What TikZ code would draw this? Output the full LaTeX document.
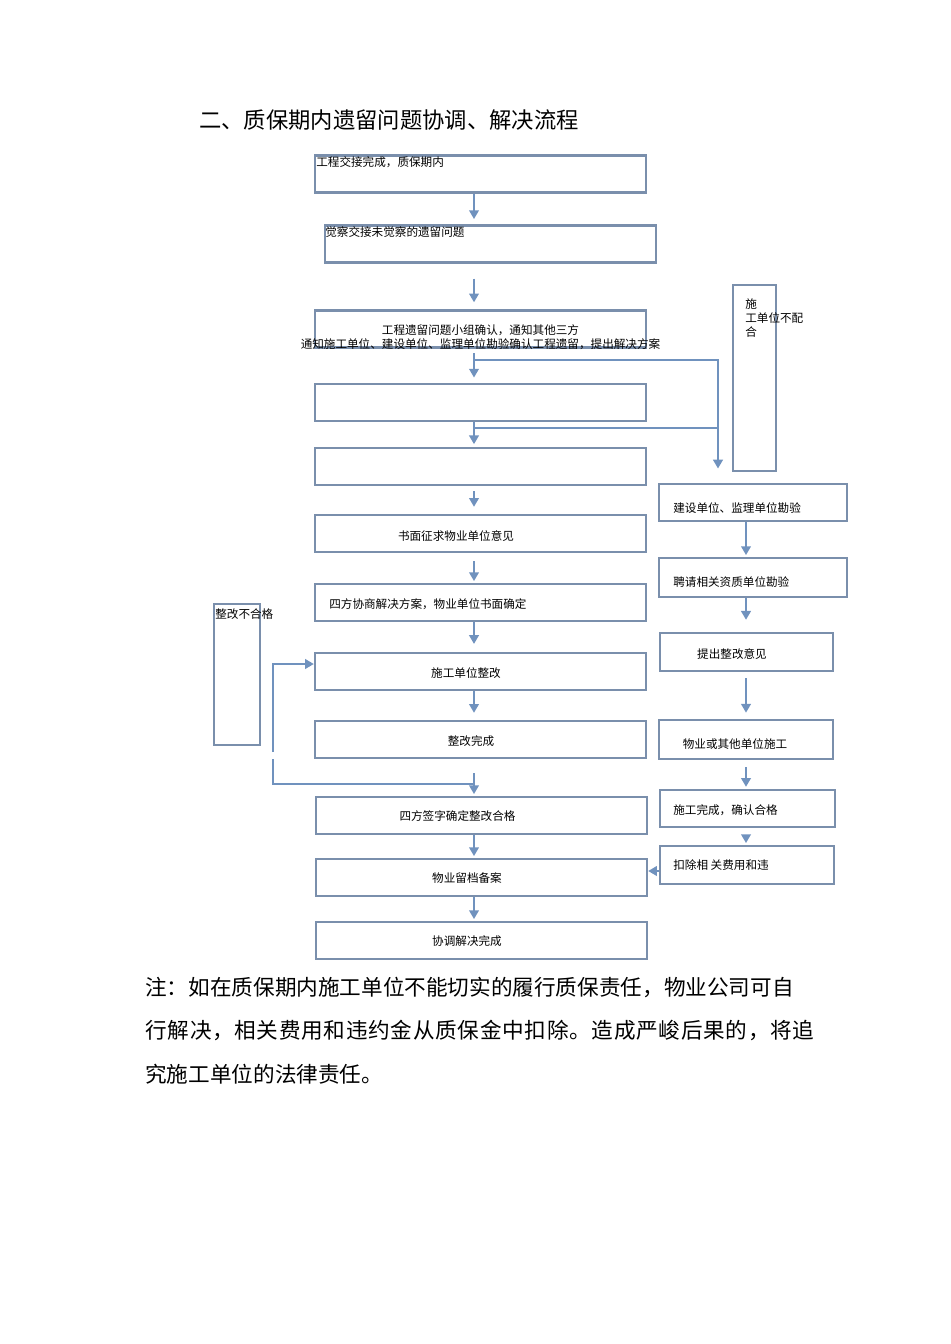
\documentclass[tikz,border=0pt]{standalone}
\usepackage{fontspec}
\setmainfont{Noto Sans CJK SC}
\usetikzlibrary{arrows.meta,positioning}
\definecolor{boxline}{RGB}{122,143,172}
\definecolor{flowline}{RGB}{112,146,190}

\begin{document}
\begin{tikzpicture}[
    x=0.02cm, y=-0.02cm,
    every node/.style={font=\fontsize{6.6}{8.2}\selectfont, inner sep=0pt},
    box/.style={rectangle, draw=boxline, line width=1.35pt, minimum width=6.62cm, minimum height=0.74cm},
    sidebox/.style={rectangle, draw=boxline, line width=1.35pt, minimum height=0.75cm},
    txt/.style={anchor=center},
    flow/.style={draw=flowline, line width=1.1pt, -{Triangle[width=5.5pt,length=5pt]}},
    link/.style={draw=flowline, line width=1.1pt}
  ]
    \useasboundingbox (0,0) rectangle (950,1344);

    % Title
    \node[anchor=west, font=\fontsize{12.7}{15}\selectfont] (title) at (199,120) {二、质保期内遗留问题协调、解决流程};

    % Main column
    \node[box] (b1) at (480.5,174) {};
    \node[box] (b2) at (490.5,244) {};
    \node[box] (b3) at (480.5,329) {};
    \node[box] (b4) at (480.5,402.5) {};
    \node[box] (b5) at (480.5,466.5) {};
    \node[box] (b6) at (480.5,533.5) {};
    \node[box] (b7) at (480.5,602.5) {};
    \node[box] (b8) at (480.5,671.5) {};
    \node[box] (b9) at (480.5,739.5) {};
    \node[box] (b10) at (481.5,815.5) {};
    \node[box] (b11) at (481.5,877.5) {};
    \node[box] (b12) at (481.5,940.5) {};

    % Main column texts
    \node[anchor=west] (t1) at (316,162) {工程交接完成，质保期内};
    \node[anchor=west] (t2) at (325,232) {觉察交接未觉察的遗留问题};
    \node[align=center] (t3) at (480.5,337.5) {工程遗留问题小组确认，通知其他三方\\通知施工单位、建设单位、监理单位勘验确认工程遗留，提出解决方案};
    \node[txt] (t6) at (456,536) {书面征求物业单位意见};
    \node[anchor=west] (t7) at (329,604) {四方协商解决方案，物业单位书面确定};
    \node[txt] (t8) at (466,673) {施工单位整改};
    \node[txt] (t9) at (471,741) {整改完成};
    \node[txt] (t10) at (457.5,816) {四方签字确定整改合格};
    \node[txt] (t11) at (467,878) {物业留档备案};
    \node[txt] (t12) at (467,941) {协调解决完成};

    % Right column
    \node[rectangle, draw=boxline, line width=1.35pt, minimum width=0.86cm, minimum height=3.72cm] (r0) at (754.5,378) {};
    \node[sidebox, minimum width=3.76cm] (r1) at (753,502.5) {};
    \node[sidebox, minimum width=3.76cm, minimum height=0.78cm] (r2) at (753,577.5) {};
    \node[sidebox, minimum width=3.46cm] (r3) at (746.5,652) {};
    \node[sidebox, minimum width=3.48cm, minimum height=0.78cm] (r4) at (746,739.5) {};
    \node[sidebox, minimum width=3.5cm] (r5) at (747.5,808.5) {};
    \node[sidebox, minimum width=3.48cm, minimum height=0.76cm] (r6) at (747,865) {};

    % Right column texts
    \node[anchor=north west, align=left] (s0) at (745,298) {施\\工单位不配\\合};
    \node[anchor=west] (s1) at (673,508) {建设单位、监理单位勘验};
    \node[anchor=west] (s2) at (673,582) {聘请相关资质单位勘验};
    \node[txt] (s3) at (732,654) {提出整改意见};
    \node[txt] (s4) at (735,744) {物业或其他单位施工};
    \node[anchor=west] (s5) at (673,810) {施工完成，确认合格};
    \node[anchor=west] (s6) at (673,865) {扣除相 关费用和违};

    % Rework box
    \node[rectangle, draw=boxline, line width=1.35pt, minimum width=0.92cm, minimum height=2.82cm] (fail) at (237,674.5) {};
    \node[anchor=north west] (failtxt) at (215,608) {整改不合格};

    % Note
    \node[anchor=west, font=\fontsize{12.3}{15}\selectfont] (note1) at (145,987) {注：如在质保期内施工单位不能切实的履行质保责任，物业公司可自};
    \node[anchor=west, font=\fontsize{12.3}{15}\selectfont\addfontfeature{LetterSpace=3.3}] (note2) at (145,1030) {行解决，相关费用和违约金从质保金中扣除。造成严峻后果的，将追};
    \node[anchor=west, font=\fontsize{12.3}{15}\selectfont] (note3) at (145,1074) {究施工单位的法律责任。};

    % Connections, main column
    \coordinate (axis) at (474,0);
    \coordinate (branch1) at (718,360);
    \coordinate (branch2) at (718,428);
    \coordinate (loopjoin) at (474,784);
    \draw[flow, shorten >=3pt] (b1.south -| axis) -- (b2.north -| axis);
    \draw[flow, shorten <=8.5pt, shorten >=4pt] (b2.south -| axis) -- (b3.north -| axis);
    \draw[flow, shorten <=2.5pt, shorten >=3pt] (b3.south -| axis) -- (b4.north -| axis);
    \draw[flow, shorten >=1.5pt] (b4.south -| axis) -- (b5.north -| axis);
    \draw[flow, shorten <=3pt, shorten >=4pt] (b5.south -| axis) -- (b6.north -| axis);
    \draw[flow, shorten <=4.5pt, shorten >=1pt] (b6.south -| axis) -- (b7.north -| axis);
    \draw[flow, shorten >=4.5pt] (b7.south -| axis) -- (b8.north -| axis);
    \draw[flow, shorten >=4pt] (b8.south -| axis) -- (b9.north -| axis);
    \draw[flow, shorten <=8pt, shorten >=1pt] (b9.south -| axis) -- (b10.north -| axis);
    \draw[flow, shorten >=1pt] (b10.south -| axis) -- (b11.north -| axis);
    \draw[flow, shorten >=1pt] (b11.south -| axis) -- (b12.north -| axis);

    % Branches to the right column
    \draw[flow, shorten >=8pt] (branch1 -| axis) -- (branch1) -- (branch1 |- r1.north);
    \draw[link] (branch2 -| axis) -- (branch2);

    % Rework loop
    \draw[link] (loopjoin) -- (273,784) -- (273,759);
    \draw[flow] (273,752) -- (273,664) -- (b8.west |- 0,664);

    % Connections, right column
    \coordinate (raxis) at (746,0);
    \draw[flow, shorten >=1pt] (r1.south -| raxis) -- (r2.north -| raxis);
    \draw[flow, shorten >=7pt] (r2.south -| raxis) -- (r3.north -| raxis);
    \draw[flow, shorten <=3.5pt, shorten >=3.5pt] (r3.south -| raxis) -- (r4.north -| raxis);
    \draw[flow, shorten <=4pt, shorten >=1pt] (r4.south -| raxis) -- (r5.north -| raxis);
    \draw[flow, shorten <=4pt, shorten >=1pt] (r5.south -| raxis) -- (r6.north -| raxis);
    \draw[flow] (r6.west |- 0,871) -- (b11.east |- 0,871);
  \end{tikzpicture}
\end{document}
